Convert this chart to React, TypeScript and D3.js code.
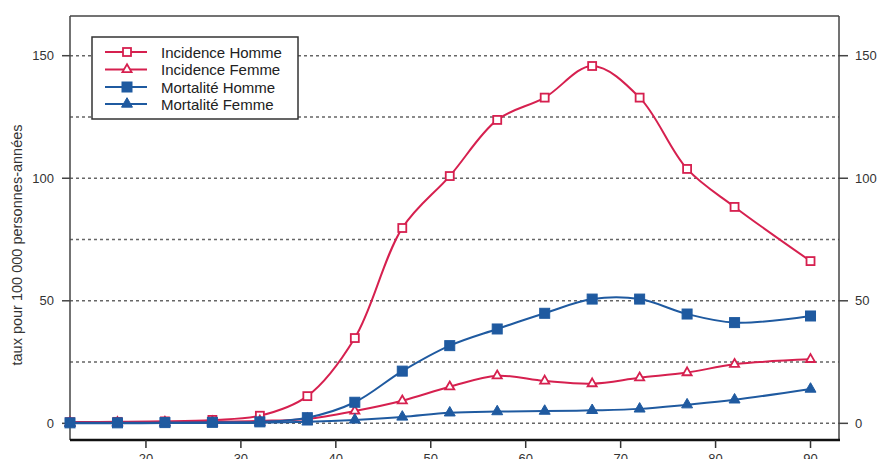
import React from "react";
import * as d3 from "d3";

const ages = [12, 17, 22, 27, 32, 37, 42, 47, 52, 57, 62, 67, 72, 77, 82, 90];
const incidenceHomme = [0.5, 0.6, 0.8, 1.4, 3.1, 11.1, 34.8, 79.7, 100.9, 123.8, 132.9, 145.8, 132.9, 103.8, 88.3, 66.2];
const incidenceFemme = [0.3, 0.4, 0.5, 0.7, 1.0, 1.8, 5.0, 9.2, 14.9, 19.4, 17.3, 16.2, 18.6, 20.7, 24.1, 26.1];
const mortaliteHomme = [0.2, 0.2, 0.3, 0.4, 0.6, 2.3, 8.6, 21.3, 31.7, 38.5, 44.9, 50.7, 50.7, 44.6, 41.1, 43.8];
const mortaliteFemme = [0.0, 0.0, 0.1, 0.1, 0.2, 0.6, 1.4, 2.6, 4.3, 4.8, 5.0, 5.3, 5.9, 7.6, 9.6, 14.0];

const xTicks = [20, 30, 40, 50, 60, 70, 80, 90];
const yTicks = [0, 50, 100, 150];
const gridValues = [0, 25, 50, 75, 100, 125, 150];
const seriesLabels = ["Incidence Homme", "Incidence Femme", "Mortalité Homme", "Mortalité Femme"];
const yLabel = "taux pour 100 000 personnes-années";

const RED = "#d6204f";
const BLUE = "#1f5aa0";
const FONT = "'Liberation Sans', Arial, Helvetica, sans-serif";

const L = 70, R = 839, T = 16, B = 440;

export default function App() {
  const x = d3.scaleLinear().domain([12, 93]).range([L, R]);
  const y = d3.scaleLinear().domain([-6.8, 166.2]).range([B, T]);

  const series = [
    { name: seriesLabels[0], values: incidenceHomme, color: RED, shape: "square", filled: false },
    { name: seriesLabels[1], values: incidenceFemme, color: RED, shape: "triangle", filled: false },
    { name: seriesLabels[2], values: mortaliteHomme, color: BLUE, shape: "square", filled: true },
    { name: seriesLabels[3], values: mortaliteFemme, color: BLUE, shape: "triangle", filled: true },
  ];

  const line = d3
    .line<[number, number]>()
    .x((d) => x(d[0]))
    .y((d) => y(d[1]))
    .curve(d3.curveCatmullRom.alpha(0.5));

  const marker = (shape: string, filled: boolean, color: string, cx: number, cy: number, key: any) => {
    if (shape === "square") {
      const s = filled ? 10 : 8;
      return (
        <rect
          key={key}
          x={cx - s / 2}
          y={cy - s / 2}
          width={s}
          height={s}
          fill={filled ? color : "#fff"}
          stroke={color}
          strokeWidth={filled ? 1 : 1.8}
        />
      );
    }
    const size = filled ? 52 : 36;
    const p = d3.symbol().type(d3.symbolTriangle).size(size)();
    return (
      <path
        key={key}
        d={p || ""}
        transform={`translate(${cx},${cy})`}
        fill={filled ? color : "#fff"}
        stroke={color}
        strokeWidth={filled ? 1 : 1.8}
      />
    );
  };

  const legendRows = [52, 69.5, 87, 104];

  return (
    <svg
      width={880}
      height={459}
      style={{ position: "absolute", left: 0, top: 0, background: "#fff" }}
      fontFamily={FONT}
    >
      {/* grid */}
      {gridValues.map((v) => (
        <line
          key={"g" + v}
          x1={L}
          x2={R}
          y1={y(v)}
          y2={y(v)}
          stroke="#666"
          strokeWidth={1.5}
          strokeDasharray="3,3"
        />
      ))}
      {/* frame */}
      <line x1={L} x2={L} y1={T} y2={B} stroke="#444" strokeWidth={1.5} />
      <line x1={R} x2={R} y1={T} y2={B} stroke="#444" strokeWidth={1.5} />
      <line x1={L} x2={R} y1={T} y2={T} stroke="#444" strokeWidth={1.5} />
      <line x1={L} x2={R + 1} y1={B} y2={B} stroke="#111" strokeWidth={2.5} />

      {/* left axis */}
      {yTicks.map((v) => (
        <g key={"yl" + v}>
          <line x1={L - 8} x2={L} y1={y(v)} y2={y(v)} stroke="#444" strokeWidth={1.5} />
          <text x={L - 16} y={y(v)} textAnchor="end" dominantBaseline="central" fontSize={13} fill="#333">
            {v}
          </text>
        </g>
      ))}
      {/* right axis */}
      {yTicks.map((v) => (
        <g key={"yr" + v}>
          <line x1={R} x2={R + 9} y1={y(v)} y2={y(v)} stroke="#444" strokeWidth={1.5} />
          <text x={R + 16} y={y(v)} textAnchor="start" dominantBaseline="central" fontSize={13} fill="#333">
            {v}
          </text>
        </g>
      ))}
      {/* bottom axis */}
      {xTicks.map((v) => (
        <g key={"x" + v}>
          <line x1={x(v)} x2={x(v)} y1={B} y2={B + 8} stroke="#333" strokeWidth={1.5} />
          <text x={x(v)} y={B + 23} textAnchor="middle" fontSize={13} fill="#333">
            {v}
          </text>
        </g>
      ))}
      {/* y label */}
      <text
        transform={`translate(22,${245}) rotate(-90)`}
        textAnchor="middle"
        fontSize={14.5}
        fill="#333"
      >
        {yLabel}
      </text>

      {/* series */}
      {series.map((s, si) => {
        const pts: [number, number][] = ages.map((a, i) => [a, s.values[i]]);
        return (
          <g key={"s" + si}>
            <path d={line(pts) || ""} fill="none" stroke={s.color} strokeWidth={2} />
            {pts.map((p, i) => marker(s.shape, s.filled, s.color, x(p[0]), y(p[1]), i))}
          </g>
        );
      })}

      {/* legend */}
      <rect x={92} y={37} width={206} height={82} fill="#fff" stroke="#333" strokeWidth={1.5} />
      {series.map((s, i) => (
        <g key={"lg" + i}>
          <line x1={105} x2={147} y1={legendRows[i]} y2={legendRows[i]} stroke={s.color} strokeWidth={2} />
          {marker(s.shape, s.filled, s.color, 127, legendRows[i], "m")}
          <text x={161} y={legendRows[i]} dominantBaseline="central" fontSize={15} fill="#222">
            {s.name}
          </text>
        </g>
      ))}
    </svg>
  );
}
